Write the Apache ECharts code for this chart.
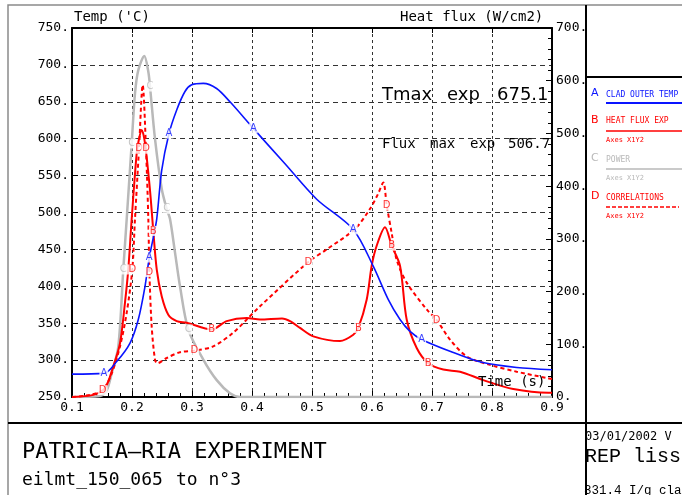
<!DOCTYPE html>
<html><head><meta charset="utf-8">
<script src="https://cdn.jsdelivr.net/npm/echarts@6/dist/echarts.min.js"></script>
<style>html,body{margin:0;padding:0;background:#fff}#c{width:682px;height:495px}</style>
</head><body><div id="c"></div>
<script>
// ---- data (time in s) ----
// A: clad outer temperature (left axis, °C)
const tA = [0.100,0.153,0.1745,0.1967,0.2105,0.2217,0.2288,0.2355,0.2412,0.2495,0.2617,0.2745,0.2883,0.2995,0.3188,0.341,0.3633,0.4022,0.455,0.5078,0.5688,0.6022,0.6272,0.6467,0.6633,0.6828,0.73,0.7828,0.8412,0.9];
const vA = [281,282,298,323,355,400,439,466,491,557,607,639,664,673,675,668,650,614,566,518,477,427,382,355,339,328,312,297,290,287];
const mA = [1,6,10,17,20,25];
// B: heat flux exp (right axis, W/cm2)
const tB = [0.1,0.1355,0.155,0.1688,0.18,0.1883,0.1938,0.1995,0.2078,0.2117,0.2162,0.2217,0.23,0.2355,0.2412,0.2495,0.2605,0.2745,0.2912,0.3328,0.3578,0.3912,0.4133,0.45,0.465,0.48,0.5022,0.5467,0.5688,0.5772,0.5912,0.5995,0.6078,0.6217,0.6328,0.6467,0.6578,0.6745,0.6938,0.7188,0.7467,0.7855,0.8355,0.8938,0.9];
const vB = [0,4,17,58,102,179,242,338,462,490,506.7,481,392,315,242,191,156,144,141,128,144,150,147,149,143,131,115,106,118,131,185,249,287,322,287,249,147,93,64,52,48,32,15,8,8];
const mB = [13,19,29,34,38];
// C: power (right axis)
const tC = [0.1,0.1467,0.158,0.1662,0.1772,0.1855,0.1912,0.1995,0.205,0.2105,0.2205,0.2272,0.23,0.2383,0.2495,0.2578,0.2633,0.2717,0.28,0.2938,0.3188,0.3412,0.3633,0.38,0.9];
const vC = [0,2,13,45,96,242,338,481,576,620,647,617,589,490,395,357,338,274,210,128,71,32,7,0,0];
const mC = [5,7,12,15,19];
// D: correlations (right axis)
const tD = [0.1,0.13,0.1512,0.1662,0.18,0.1912,0.2005,0.205,0.2117,0.2178,0.2233,0.2272,0.229,0.2328,0.2383,0.2422,0.2578,0.28,0.3038,0.3355,0.3688,0.3912,0.4133,0.4938,0.5245,0.5717,0.5967,0.61,0.6188,0.6245,0.6328,0.6412,0.6578,0.6912,0.7078,0.73,0.7578,0.7967,0.8412,0.8912,0.9];
const vD = [0,4,13,45,96,160,242,338,471,592,471,338,237,134,71,64,74,85,88,96,122,147,172,256,280,319,357,385,407,364,311,260,217,166,146,109,77,61,48,36,34];
const mD = [2,6,8,10,12,18,23,29,34];

const xTicks = {min:0.1, max:0.9, step:0.1};
const yLeft = {min:250, max:750, step:50};
const yRight = {min:0, max:700, step:100};

const mono = 'DejaVu Sans Mono';
const sans = 'DejaVu Sans';
const BLUE = '#0a14ff', RED = '#ff0000', GRAY = '#b9b9b9';

const pairs = (t, v) => t.map((x, i) => [x, v[i]]);
function lineSeries(name, t, v, yIdx, color, width, dash) {
  return {name, type:'line', xAxisIndex:0, yAxisIndex:yIdx, data:pairs(t, v), showSymbol:false, symbol:'none',
    smooth:0.3, lineStyle:{color, width, type: dash || 'solid'}, silent:true, z:3};
}
function letterSeries(letter, t, v, idx, yIdx, color) {
  return {type:'scatter', xAxisIndex:0, yAxisIndex:yIdx, data: idx.map(i => [t[i], v[i]]), symbolSize:1,
    itemStyle:{color:'rgba(0,0,0,0)'}, silent:true, z:6,
    label:{show:true, position:'inside', formatter:letter, color, fontSize:10, fontFamily:sans,
      backgroundColor:'#fff', padding:[0,1,0,1]}};
}
function txt(x, y, text, font, fill, extra) {
  return Object.assign({type:'text', x, y, z:50, silent:true,
    style:{text, font, fill, align:'left', verticalAlign:'middle', textAlign:'left', textVerticalAlign:'middle'}}, extra || {});
}
function ln(x1, y1, x2, y2, stroke, w, dash) {
  return {type:'line', z:60, silent:true, shape:{x1, y1, x2, y2}, style:{stroke, lineWidth:w, lineDash: dash || null}};
}

const chart = echarts.init(document.getElementById('c'), null, {renderer:'canvas'});
const option = {
  animation:false,
  backgroundColor:'#fff',
  grid:{left:72, right:130, top:28, bottom:98},
  xAxis:[{
    type:'value', min:xTicks.min, max:xTicks.max, interval:xTicks.step,
    axisLine:{show:true, onZero:false, lineStyle:{color:'#000', width:2}},
    axisTick:{show:true, inside:true, length:6, lineStyle:{color:'#000'}},
    minorTick:{show:true, splitNumber:5, length:4, lineStyle:{color:'#000'}},
    axisLabel:{formatter:v => v.toFixed(1), color:'#000', fontFamily:mono, fontSize:13, margin:4},
    splitLine:{show:true, lineStyle:{color:'#333', type:[3,3], width:1}}
  },{
    type:'value', position:'top', min:xTicks.min, max:xTicks.max, interval:xTicks.step,
    axisLine:{show:true, onZero:false, lineStyle:{color:'#000', width:2}},
    axisTick:{show:true, inside:true, length:5, lineStyle:{color:'#000'}},
    axisLabel:{show:false}, splitLine:{show:false}
  }],
  yAxis:[{
    type:'value', position:'left', min:yLeft.min, max:yLeft.max, interval:yLeft.step,
    axisLine:{show:true, onZero:false, lineStyle:{color:'#000', width:2}},
    axisTick:{show:true, inside:true, length:6, lineStyle:{color:'#000'}},
    axisLabel:{formatter:v => v + '.', color:'#000', fontFamily:mono, fontSize:13, margin:3},
    splitLine:{show:true, lineStyle:{color:'#333', type:[5,4], width:1}}
  },{
    type:'value', position:'right', min:yRight.min, max:yRight.max, interval:yRight.step,
    axisLine:{show:true, onZero:false, lineStyle:{color:'#000', width:2}},
    axisTick:{show:true, inside:true, length:6, lineStyle:{color:'#000'}},
    minorTick:{show:true, splitNumber:5, length:4, lineStyle:{color:'#000'}},
    axisLabel:{formatter:v => v + '.', color:'#000', fontFamily:mono, fontSize:13, margin:4},
    splitLine:{show:false}
  }],
  series:[
    lineSeries('POWER', tC, vC, 1, GRAY, 2.5),
    lineSeries('CORRELATIONS', tD, vD, 1, RED, 2, [4,3]),
    lineSeries('HEAT FLUX EXP', tB, vB, 1, RED, 2),
    lineSeries('CLAD OUTER TEMP', tA, vA, 0, BLUE, 1.6),
    letterSeries('C', tC, vC, mC, 1, GRAY),
    letterSeries('D', tD, vD, mD, 1, RED),
    letterSeries('B', tB, vB, mB, 1, RED),
    letterSeries('A', tA, vA, mA, 0, BLUE)
  ],
  graphic:[
    // frame
    {type:'rect', z:60, silent:true, shape:{x:8, y:5, width:720, height:540}, style:{fill:'none', stroke:'#8a8a8a', lineWidth:1.5}},
    ln(586, 5, 586, 495, '#000', 2),
    ln(8, 423, 682, 423, '#000', 2),
    ln(586, 77, 682, 77, '#000', 2),
    // axis titles
    txt(74, 17, "Temp ('C)", '14px ' + mono, '#000'),
    txt(400, 17, 'Heat flux (W/cm2)', '14px ' + mono, '#000'),
    // annotations
    txt(382, 95, 'Tmax', '18px ' + sans, '#000'),
    txt(447, 95, 'exp', '18px ' + sans, '#000'),
    txt(497, 95, '675.1', '18px ' + sans, '#000'),
    txt(382, 144, 'Flux', '14px ' + mono, '#000'),
    txt(430, 144, 'max', '14px ' + mono, '#000'),
    txt(470, 144, 'exp', '14px ' + mono, '#000'),
    txt(508, 144, '506.7', '14px ' + mono, '#000'),
    txt(478, 382, 'Time (s)', '14px ' + mono, '#000'),
    // legend panel
    txt(591, 93, 'A', '11px ' + sans, BLUE),
    txt(606, 95, 'CLAD OUTER TEMP (', '8px ' + mono, BLUE),
    ln(606, 103, 682, 103, BLUE, 2),
    txt(591, 120, 'B', '11px ' + sans, RED),
    txt(606, 121, 'HEAT FLUX EXP', '8px ' + mono, RED),
    ln(606, 131, 682, 131, RED, 1.5),
    txt(606, 140, 'Axes X1Y2', '7px ' + mono, RED),
    txt(591, 158, 'C', '11px ' + sans, GRAY),
    txt(606, 160, 'POWER', '8px ' + mono, GRAY),
    ln(606, 169, 682, 169, GRAY, 1.5),
    txt(606, 178, 'Axes X1Y2', '7px ' + mono, GRAY),
    txt(591, 196, 'D', '11px ' + sans, RED),
    txt(606, 198, 'CORRELATIONS', '8px ' + mono, RED),
    ln(606, 207, 679, 207, RED, 1.5, [4,2]),
    txt(606, 216, 'Axes X1Y2', '7px ' + mono, RED),
    // bottom panel
    txt(22, 452, 'PATRICIA–RIA EXPERIMENT', '22px ' + mono, '#000'),
    txt(22, 480, 'eilmt_150_065', '18px ' + mono, '#000'),
    txt(176, 480, 'to n°3', '18px ' + mono, '#000'),
    txt(585, 437, '03/01/2002 V', '12px ' + mono, '#000'),
    txt(585, 457, 'REP liss', '20px Liberation Mono', '#000'),
    txt(584, 491, '331.4 I/g cla', '12.5px Liberation Mono', '#000')
  ]
};
chart.setOption(option);
</script>
</body></html>
